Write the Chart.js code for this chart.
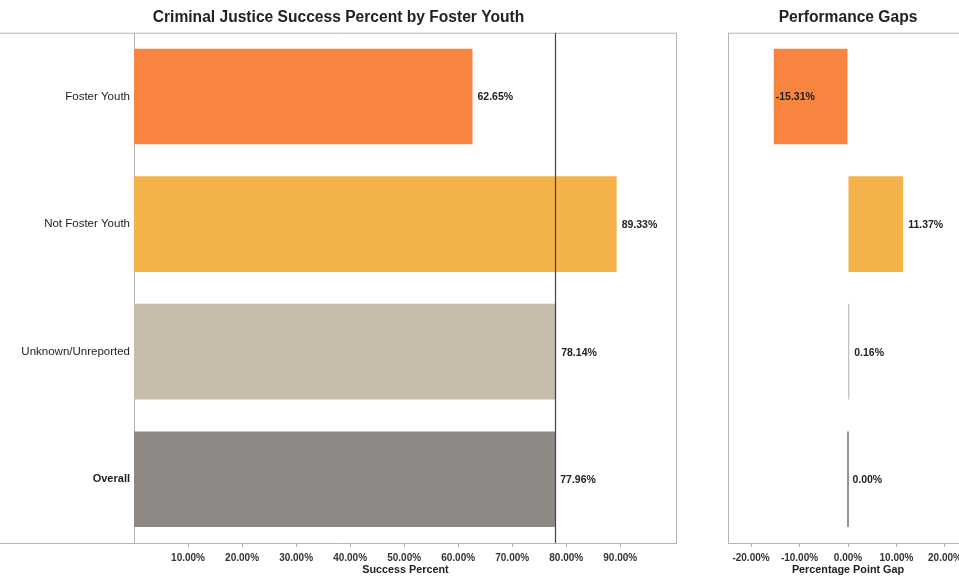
<!DOCTYPE html>
<html>
<head>
<meta charset="utf-8">
<script src="https://cdn.jsdelivr.net/npm/chart.js@4.4.1/dist/chart.umd.min.js"></script>
<style>
  html, body { margin: 0; padding: 0; background: #fff; overflow: hidden; }
  body { width: 959px; height: 582px; position: relative; }
  #leftBox { position: absolute; left: 0; top: 0; width: 680px; height: 582px; }
  #rightBox { position: absolute; left: 700px; top: 0; width: 300px; height: 582px; }
</style>
</head>
<body>
<div id="leftBox"><canvas id="success"></canvas></div>
<div id="rightBox"><canvas id="gaps"></canvas></div>
<script>
// data
const groups = ['Foster Youth', 'Not Foster Youth', 'Unknown/Unreported', 'Overall'];
const successPct = [62.65, 89.33, 78.14, 77.96];
const gapPct = [-15.31, 11.37, 0.16, 0.00];
const successTicks = [10, 20, 30, 40, 50, 60, 70, 80, 90];
const gapTicks = [-20, -10, 0, 10, 20];

const barColors = ['#f7853f', '#f4b24a', '#c7bcab', '#8e8985'];
const gapColors = ['#f7853f', '#f4b24a', '#8a8a8a', '#4b4a5c'];
const fontFam = '"Liberation Sans", Arial, sans-serif';

Chart.defaults.font.family = fontFam;
Chart.defaults.animation = false;

const pct = v => v.toFixed(2) + '%';

// value labels next to the bar ends
const valueLabels = {
  id: 'valueLabels',
  afterDatasetsDraw(chart) {
    const ctx = chart.ctx;
    const meta = chart.getDatasetMeta(0);
    const vals = chart.data.datasets[0].data;
    ctx.save();
    ctx.font = 'bold 10.5px ' + fontFam;
    ctx.fillStyle = '#222';
    ctx.textBaseline = 'middle';
    ctx.textAlign = 'left';
    meta.data.forEach((bar, i) => {
      const x = vals[i] < 0 ? bar.x + 2 : bar.x + 5;
      ctx.fillText(pct(vals[i]), x, bar.y + 1);
    });
    ctx.restore();
  }
};

// panel lines: header rule, plot box, bottom rule
function framePlugin(ruleLeft, refValue) {
  return {
    id: 'frame',
    beforeDatasetsDraw(chart) {
      const { ctx, chartArea: a } = chart;
      ctx.save();
      ctx.strokeStyle = '#b4b4b4';
      ctx.lineWidth = 1;
      ctx.beginPath();
      ctx.moveTo(ruleLeft, a.top + 0.5); ctx.lineTo(a.right, a.top + 0.5);
      ctx.moveTo(ruleLeft, a.bottom + 0.5); ctx.lineTo(a.right, a.bottom + 0.5);
      ctx.moveTo(a.left + 0.5, a.top); ctx.lineTo(a.left + 0.5, a.bottom);
      ctx.moveTo(a.right - 0.5, a.top); ctx.lineTo(a.right - 0.5, a.bottom);
      ctx.stroke();
      ctx.restore();
    },
    afterDatasetsDraw(chart) {
      if (refValue === null) return;
      const { ctx, chartArea: a } = chart;
      const x = Math.round(chart.scales.x.getPixelForValue(refValue)) + 0.5;
      ctx.save();
      ctx.strokeStyle = '#3c3f66';
      ctx.lineWidth = 1.2;
      ctx.beginPath();
      ctx.moveTo(x, a.top); ctx.lineTo(x, a.bottom);
      ctx.stroke();
      ctx.restore();
    }
  };
}

function xAxis(min, max, ticks, title) {
  return {
    type: 'linear',
    min: min,
    max: max,
    afterBuildTicks: s => { s.ticks = ticks.map(v => ({ value: v })); },
    afterFit: s => { s.height = 39; },
    border: { display: false },
    grid: { drawOnChartArea: false, drawTicks: true, tickLength: 4, color: '#aaa' },
    ticks: {
      padding: 5,
      color: '#333',
      font: { size: 10, weight: 'bold' },
      maxRotation: 0,
      autoSkip: false,
      callback: v => pct(v)
    },
    title: {
      display: true,
      text: title,
      color: '#222',
      font: { size: 10.8, weight: 'bold' },
      padding: { top: 0, bottom: 5 }
    }
  };
}

new Chart(document.getElementById('success'), {
  type: 'bar',
  data: {
    labels: groups,
    datasets: [{
      data: successPct,
      backgroundColor: barColors,
      borderWidth: 0,
      categoryPercentage: 1,
      barPercentage: 0.75
    }]
  },
  options: {
    indexAxis: 'y',
    responsive: true,
    maintainAspectRatio: false,
    layout: { padding: { left: 0, right: 3, top: 0, bottom: 0 } },
    plugins: {
      legend: { display: false },
      tooltip: { enabled: false },
      title: {
        display: true,
        text: 'Criminal Justice Success Percent by Foster Youth',
        color: '#222',
        font: { size: 15.6, weight: 'bold' },
        padding: { top: 8, bottom: 6 }
      }
    },
    scales: {
      x: xAxis(0, 100.5, successTicks, 'Success Percent'),
      y: {
        afterFit: s => { s.width = 134; },
        border: { display: false },
        grid: { display: false, drawTicks: false },
        ticks: {
          padding: 4,
          color: '#1e1e1e',
          font: ctx => (ctx.index === 3 ? { size: 11, weight: 'bold' } : { size: 11.5, weight: 'normal' })
        }
      }
    }
  },
  plugins: [valueLabels, framePlugin(0, successPct[3])]
});

new Chart(document.getElementById('gaps'), {
  type: 'bar',
  data: {
    labels: groups,
    datasets: [{
      data: gapPct,
      backgroundColor: gapColors,
      borderWidth: 0,
      minBarLength: 1.2,
      categoryPercentage: 1,
      barPercentage: 0.75
    }]
  },
  options: {
    indexAxis: 'y',
    responsive: true,
    maintainAspectRatio: false,
    layout: { padding: { left: 28, right: 32, top: 0, bottom: 0 } },
    plugins: {
      legend: { display: false },
      tooltip: { enabled: false },
      title: {
        display: true,
        text: 'Performance Gaps',
        color: '#222',
        font: { size: 15.6, weight: 'bold' },
        padding: { top: 8, bottom: 6 }
      }
    },
    scales: {
      x: xAxis(-24.75, 24.75, gapTicks, 'Percentage Point Gap'),
      y: { display: false }
    }
  },
  plugins: [valueLabels, framePlugin(28, null)]
});
</script>
</body>
</html>
